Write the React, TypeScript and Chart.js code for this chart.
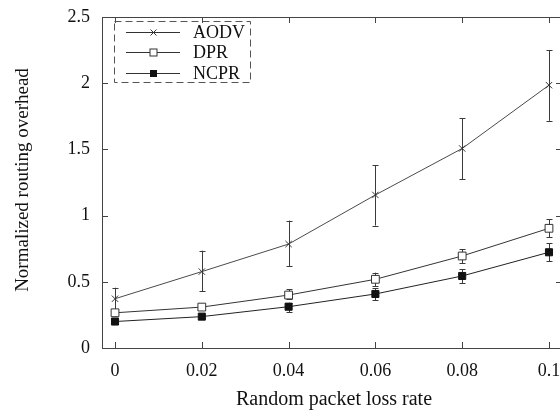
import React, { useEffect, useRef } from 'react';
import { Chart, registerables } from 'chart.js';
Chart.register(...registerables);

const FONT = '"Liberation Serif", "Times New Roman", serif';

const xValues = [0, 0.02, 0.04, 0.06, 0.08, 0.1];
const xTickLabels = ['0', '0.02', '0.04', '0.06', '0.08', '0.1'];
const yTicks = [0, 0.5, 1, 1.5, 2, 2.5];
const yTickLabels = ['0', '0.5', '1', '1.5', '2', '2.5'];

const seriesNames = ['AODV', 'DPR', 'NCPR'];
const aodv = [0.372, 0.577, 0.785, 1.156, 1.507, 1.985];
const aodvLow = [0.276, 0.428, 0.619, 0.925, 1.276, 1.716];
const aodvHigh = [0.455, 0.735, 0.962, 1.382, 1.735, 2.25];
const dpr = [0.266, 0.309, 0.4, 0.519, 0.695, 0.904];
const dprLow = [0.246, 0.289, 0.37, 0.468, 0.642, 0.836];
const dprHigh = [0.286, 0.331, 0.443, 0.569, 0.748, 0.974];
const ncpr = [0.2, 0.237, 0.312, 0.408, 0.544, 0.723];
const ncprLow = [0.19, 0.226, 0.27, 0.362, 0.489, 0.657];
const ncprHigh = [0.21, 0.249, 0.342, 0.45, 0.594, 0.79];

const lows = [aodvLow, dprLow, ncprLow];
const highs = [aodvHigh, dprHigh, ncprHigh];

export default function App() {
  const ref = useRef<HTMLCanvasElement>(null);
  useEffect(() => {
    if (!ref.current) return;
    const pts = (arr: number[]) => xValues.map((x, i) => ({ x, y: arr[i] }));

    const errPlugin = {
      id: 'errbars',
      beforeDatasetsDraw(chart: any) {
        const ctx = chart.ctx;
        const xs = chart.scales.x;
        const ys = chart.scales.y;
        ctx.save();
        ctx.strokeStyle = '#3a3a3a';
        ctx.lineWidth = 1;
        lows.forEach((lo, s) => {
          const hi = highs[s];
          xValues.forEach((x, i) => {
            const px = Math.round(xs.getPixelForValue(x)) + 0.5;
            const y1 = ys.getPixelForValue(lo[i]);
            const y2 = ys.getPixelForValue(hi[i]);
            ctx.beginPath();
            ctx.moveTo(px, y1);
            ctx.lineTo(px, y2);
            ctx.moveTo(px - 3, Math.round(y1) + 0.5);
            ctx.lineTo(px + 3, Math.round(y1) + 0.5);
            ctx.moveTo(px - 3, Math.round(y2) + 0.5);
            ctx.lineTo(px + 3, Math.round(y2) + 0.5);
            ctx.stroke();
          });
        });
        ctx.restore();
      },
    };

    const framePlugin = {
      id: 'frame',
      afterDraw(chart: any) {
        const ctx = chart.ctx;
        const { left, right, top, bottom } = chart.chartArea;
        const xs = chart.scales.x;
        const ys = chart.scales.y;
        ctx.save();
        ctx.strokeStyle = '#444';
        ctx.lineWidth = 1;
        ctx.strokeRect(Math.round(left) + 0.5, Math.round(top) + 0.5, Math.round(right - left), Math.round(bottom - top));
        ctx.beginPath();
        xValues.forEach((v) => {
          const px = Math.round(xs.getPixelForValue(v)) + 0.5;
          ctx.moveTo(px, bottom);
          ctx.lineTo(px, bottom - 6);
          ctx.moveTo(px, top);
          ctx.lineTo(px, top + 6);
        });
        yTicks.forEach((v) => {
          const py = Math.round(ys.getPixelForValue(v)) + 0.5;
          ctx.moveTo(left, py);
          ctx.lineTo(left + 6, py);
          ctx.moveTo(right, py);
          ctx.lineTo(right - 6, py);
        });
        ctx.stroke();

        // axis titles
        ctx.fillStyle = '#111';
        ctx.textAlign = 'center';
        ctx.textBaseline = 'alphabetic';
        ctx.font = `20px ${FONT}`;
        ctx.fillText('Random packet loss rate', 334, 405);
        ctx.font = `19px ${FONT}`;
        ctx.save();
        ctx.translate(28, 180);
        ctx.rotate(-Math.PI / 2);
        ctx.fillText('Normalized routing overhead', 0, 0);
        ctx.restore();

        // legend
        ctx.setLineDash([7, 4]);
        ctx.strokeStyle = '#555';
        ctx.strokeRect(114.5, 21.5, 136, 61);
        ctx.setLineDash([]);
        const rows = [32, 52, 73];
        ctx.font = `18px ${FONT}`;
        ctx.textAlign = 'left';
        seriesNames.forEach((name, i) => {
          const y = rows[i] + 0.5;
          ctx.strokeStyle = '#333';
          ctx.beginPath();
          ctx.moveTo(126, y);
          ctx.lineTo(180, y);
          ctx.stroke();
          if (i === 0) {
            ctx.beginPath();
            ctx.moveTo(150.5, y - 3);
            ctx.lineTo(156.5, y + 3);
            ctx.moveTo(156.5, y - 3);
            ctx.lineTo(150.5, y + 3);
            ctx.stroke();
          } else if (i === 1) {
            ctx.fillStyle = '#fff';
            ctx.fillRect(150, y - 3.5, 7, 7);
            ctx.strokeRect(150, y - 3.5, 7, 7);
          } else {
            ctx.fillStyle = '#111';
            ctx.fillRect(150, y - 3.5, 7, 7);
          }
          ctx.fillStyle = '#111';
          ctx.fillText(name, 193, rows[i] + 6);
        });
        ctx.restore();
      },
    };

    const chart = new Chart(ref.current, {
      type: 'line',
      data: {
        datasets: [
          {
            label: seriesNames[0],
            data: pts(aodv),
            borderColor: '#4a4a4a',
            borderWidth: 1,
            pointStyle: 'crossRot',
            pointRadius: 4.5,
            pointBorderColor: '#333',
            pointBorderWidth: 1,
            tension: 0,
          },
          {
            label: seriesNames[1],
            data: pts(dpr),
            borderColor: '#333',
            borderWidth: 1,
            pointStyle: 'rect',
            pointRadius: 5.5,
            pointBackgroundColor: '#fff',
            pointBorderColor: '#333',
            pointBorderWidth: 1,
            tension: 0,
          },
          {
            label: seriesNames[2],
            data: pts(ncpr),
            borderColor: '#222',
            borderWidth: 1,
            pointStyle: 'rect',
            pointRadius: 5,
            pointBackgroundColor: '#111',
            pointBorderColor: '#111',
            pointBorderWidth: 1,
            tension: 0,
          },
        ],
      },
      options: {
        animation: false,
        responsive: false,
        layout: { padding: { top: 17, right: 8, left: 0, bottom: 0 } },
        plugins: { legend: { display: false }, tooltip: { enabled: false } },
        scales: {
          x: {
            type: 'linear',
            min: -0.003,
            max: 0.103,
            afterBuildTicks: (s: any) => {
              s.ticks = xValues.map((v) => ({ value: v }));
            },
            afterFit: (s: any) => {
              s.height = 62;
              s.paddingLeft = 0;
              s.paddingRight = 0;
            },
            grid: { display: false, drawTicks: false },
            border: { display: false },
            ticks: {
              padding: 12,
              color: '#111',
              font: { family: FONT, size: 18 },
              maxRotation: 0,
              autoSkip: false,
              callback: (_v: any, i: number) => xTickLabels[i],
            },
          },
          y: {
            type: 'linear',
            min: 0,
            max: 2.5,
            afterBuildTicks: (s: any) => {
              s.ticks = yTicks.map((v) => ({ value: v }));
            },
            afterFit: (s: any) => {
              s.width = 102;
              s.paddingTop = 0;
              s.paddingBottom = 0;
            },
            grid: { display: false, drawTicks: false },
            border: { display: false },
            ticks: {
              padding: 12,
              color: '#111',
              font: { family: FONT, size: 18 },
              autoSkip: false,
              callback: (_v: any, i: number) => yTickLabels[i],
            },
          },
        },
      },
      plugins: [errPlugin, framePlugin],
    });
    return () => chart.destroy();
  }, []);

  return (
    <div style={{ position: 'fixed', left: 0, top: 0, width: 560, height: 410, overflow: 'hidden', background: '#fff' }}>
      <canvas ref={ref} width={570} height={410} style={{ display: 'block', width: 570, height: 410 }} />
    </div>
  );
}
